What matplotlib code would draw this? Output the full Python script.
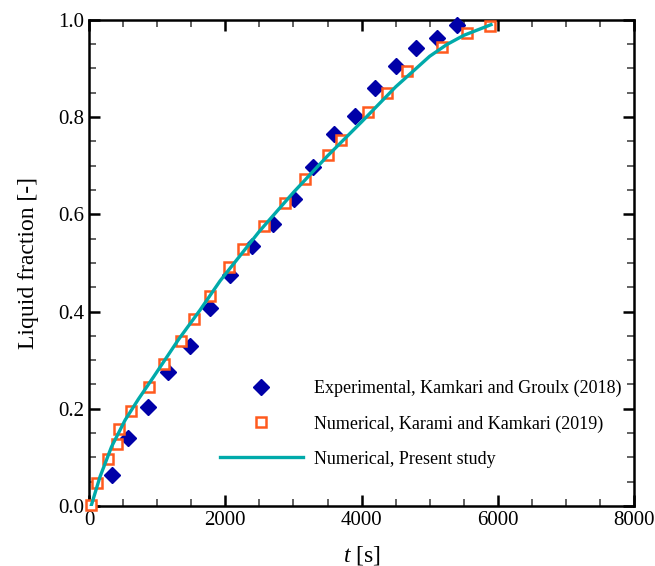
import matplotlib.pyplot as plt
import numpy as np
from matplotlib.ticker import MultipleLocator, FormatStrFormatter

plt.rcParams['font.family'] = ['Liberation Serif', 'DejaVu Serif']
plt.rcParams['mathtext.fontset'] = 'custom'
plt.rcParams['mathtext.it'] = 'Liberation Serif:italic'
plt.rcParams['mathtext.rm'] = 'Liberation Serif'

# Experimental, Kamkari and Groulx (2018)
t_exp = [333, 577, 861, 1164, 1482, 1776, 2075, 2385, 2704, 3012, 3291,
         3596, 3910, 4198, 4511, 4802, 5110, 5400]
f_exp = [0.064, 0.139, 0.204, 0.276, 0.329, 0.408, 0.475, 0.534, 0.581,
         0.632, 0.698, 0.765, 0.803, 0.859, 0.905, 0.943, 0.962, 0.990]

# Numerical, Karami and Kamkari (2019)
t_num = [30, 113, 284, 406, 445, 617, 881, 1105, 1350, 1541, 1768, 2060,
         2256, 2574, 2877, 3171, 3504, 3699, 4100, 4370, 4663, 5186, 5544, 5886]
f_num = [0.003, 0.047, 0.096, 0.128, 0.158, 0.195, 0.245, 0.292, 0.340,
         0.385, 0.432, 0.491, 0.529, 0.576, 0.623, 0.672, 0.721, 0.753,
         0.811, 0.850, 0.895, 0.944, 0.972, 0.988]

# Numerical, Present study
t_cur = [30, 160, 330, 530, 725, 944, 1311, 1629, 1923, 2500, 3000, 3500,
         4000, 4500, 5000, 5250, 5500, 5900]
f_cur = [0.0, 0.060, 0.122, 0.177, 0.220, 0.265, 0.342, 0.403, 0.463, 0.565,
         0.645, 0.720, 0.790, 0.862, 0.925, 0.949, 0.968, 0.990]

fig = plt.figure(figsize=(6.55, 5.66), dpi=100)
ax = fig.add_axes([0.136, 0.106, 0.832, 0.859])

ax.plot(t_exp, f_exp, linestyle='none', marker='D', ms=8.5, color='#0000A8',
        label='Experimental, Kamkari and Groulx (2018)', clip_on=False, zorder=3)
ax.plot(t_num, f_num, linestyle='none', marker='s', ms=6.5, mfc='white',
        mec='#FF5A1E', mew=1.8, label='Numerical, Karami and Kamkari (2019)',
        clip_on=False, zorder=4)
ax.plot(t_cur, f_cur, color='#00AAAA', lw=2.4,
        label='Numerical, Present study', zorder=5)

ax.set_xlim(0, 8000)
ax.set_ylim(0, 1.0)
ax.xaxis.set_major_locator(MultipleLocator(2000))
ax.xaxis.set_minor_locator(MultipleLocator(500))
ax.yaxis.set_major_locator(MultipleLocator(0.2))
ax.yaxis.set_minor_locator(MultipleLocator(0.05))
ax.yaxis.set_major_formatter(FormatStrFormatter('%.1f'))
ax.tick_params(which='both', direction='in', top=True, right=True,
               labelsize=15, width=1.3)
ax.tick_params(which='major', length=8, width=1.8)
ax.tick_params(which='minor', length=5, color='#555555')
for s in ax.spines.values():
    s.set_linewidth(1.8)

ax.set_xlabel(r'$t$ [s]', fontsize=17, labelpad=10)
ax.set_ylabel('Liquid fraction [-]', fontsize=17, labelpad=14)

ax.legend(loc='center left', bbox_to_anchor=(0.24, 0.169), frameon=False,
          fontsize=13, handlelength=4.6, handletextpad=0.6, labelspacing=1.0,
          borderpad=0, borderaxespad=0)

fig.savefig('out.png', dpi=100)
